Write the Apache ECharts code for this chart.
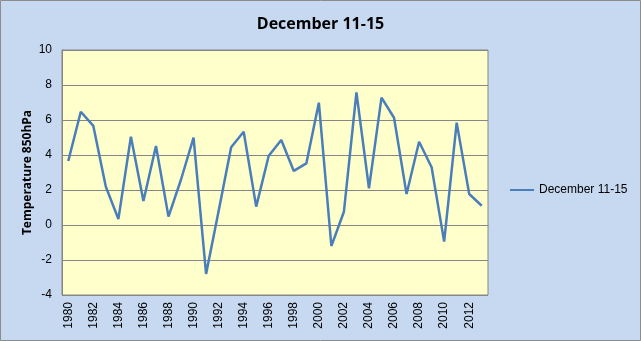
<!DOCTYPE html>
<html>
<head>
<meta charset="utf-8">
<script src="https://cdn.jsdelivr.net/npm/echarts@6/dist/echarts.min.js"></script>
<style>
  html, body { margin: 0; padding: 0; background: #c6d9f1; }
  #chart { width: 641px; height: 341px; }
</style>
</head>
<body>
<div id="chart"></div>
<script>
// Mean 850 hPa temperature for December 11-15, by year
const years = [
  '1980','1981','1982','1983','1984','1985','1986','1987','1988','1989',
  '1990','1991','1992','1993','1994','1995','1996','1997','1998','1999',
  '2000','2001','2002','2003','2004','2005','2006','2007','2008','2009',
  '2010','2011','2012','2013'
];
const temps = [
  3.66, 6.47, 5.66, 2.19, 0.34, 5.05, 1.37, 4.51, 0.48, 2.6,
  4.99, -2.8, 0.8, 4.44, 5.33, 1.05, 3.96, 4.86, 3.09, 3.52,
  6.99, -1.2, 0.76, 7.58, 2.1, 7.28, 6.13, 1.77, 4.76, 3.3,
  -0.95, 5.85, 1.77, 1.1
];
const seriesName = 'December 11-15';
const yAxisTitle = 'Temperature 850hPa';

const chart = echarts.init(document.getElementById('chart'), null, { renderer: 'canvas' });
chart.setOption({
  backgroundColor: '#c6d9f1',
  animation: false,
  title: {
    text: seriesName,
    left: 'center',
    top: 11,
    textStyle: { fontFamily: 'Open Sans', fontWeight: 'bold', fontSize: 16, color: '#000' }
  },
  legend: {
    data: [seriesName],
    orient: 'vertical',
    left: 505,
    top: 179,
    itemWidth: 24,
    itemHeight: 10,
    itemGap: 5,
    icon: 'path://M0,4 L24,4 L24,6 L0,6 Z',
    textStyle: { fontFamily: 'Liberation Sans', fontSize: 12, color: '#000' }
  },
  graphic: [{
    type: 'rect',
    shape: { x: 0.5, y: 0.5, width: 640, height: 340 },
    style: { fill: 'none', stroke: '#8c8c8c', lineWidth: 1 },
    silent: true,
    z: 100
  }],
  grid: {
    left: 62, right: 153, top: 50, bottom: 46,
    show: true,
    backgroundColor: '#ffffcc',
    borderColor: '#868686',
    borderWidth: 1
  },
  xAxis: {
    type: 'category',
    data: years,
    boundaryGap: true,
    axisLine: { show: true, lineStyle: { color: '#868686' } },
    axisTick: { show: false },
    axisLabel: {
      interval: 1,
      rotate: 90,
      margin: 7,
      fontFamily: 'Liberation Sans',
      fontSize: 12,
      color: '#000'
    }
  },
  yAxis: {
    type: 'value',
    min: -4,
    max: 10,
    interval: 2,
    name: yAxisTitle,
    nameLocation: 'middle',
    nameRotate: 90,
    nameGap: 28,
    nameMoveOverlap: false,
    nameTextStyle: { fontFamily: 'Open Sans', fontWeight: 'bold', fontSize: 12, color: '#000' },
    axisLine: { show: true, lineStyle: { color: '#868686' } },
    axisTick: { show: false },
    splitLine: { show: true, lineStyle: { color: '#868686', width: 1 } },
    axisLabel: {
      margin: 10,
      fontFamily: 'Liberation Sans',
      fontSize: 12,
      color: '#000'
    }
  },
  series: [{
    name: seriesName,
    type: 'line',
    data: temps,
    symbol: 'none',
    lineStyle: { color: '#4a7ebb', width: 2.5 },
    itemStyle: { color: '#4a7ebb' }
  }]
});
</script>
</body>
</html>
